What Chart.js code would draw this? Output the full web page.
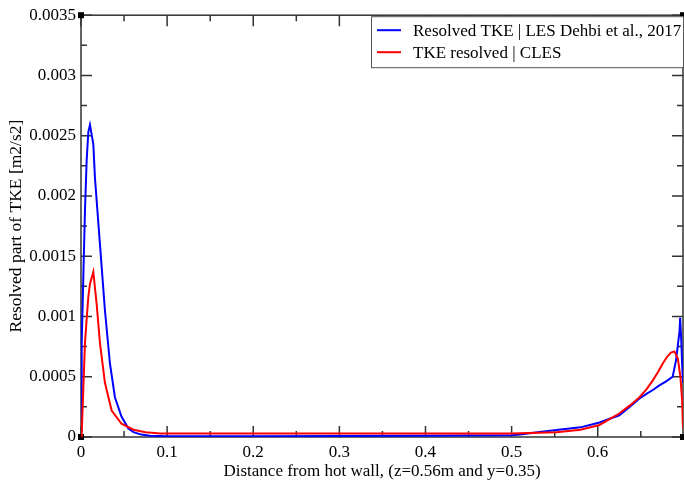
<!DOCTYPE html>
<html>
<head>
<meta charset="utf-8">
<script src="https://cdn.jsdelivr.net/npm/chart.js@4"></script>
<style>
html, body { margin: 0; padding: 0; background: #fff; }
</style>
</head>
<body>
<canvas id="myChart" width="684" height="489"></canvas>
<script>
var lesX = [0, 0.0008, 0.0027, 0.0046, 0.0066, 0.0085, 0.0104, 0.0143, 0.0162, 0.022, 0.0278, 0.0336, 0.0394, 0.047, 0.055, 0.061, 0.07, 0.08, 0.1, 0.2, 0.3, 0.4, 0.45, 0.5, 0.51, 0.53, 0.552, 0.58, 0.602, 0.625, 0.637, 0.6485, 0.657, 0.664, 0.672, 0.679, 0.687, 0.691, 0.695, 0.6957, 0.697, 0.698, 0.699];
var lesTke = [0.00005, 0.00078, 0.00133, 0.00188, 0.0023, 0.00253, 0.00259, 0.00243, 0.00215, 0.0016, 0.00105, 0.00061, 0.00033, 0.00017, 0.00007, 0.00004, 0.00002, 0.00001, 0.000006, 0.000006, 0.000008, 0.00001, 0.000012, 0.000015, 0.00002, 0.00004, 0.000058, 0.00008, 0.00012, 0.00018, 0.00025, 0.00032, 0.00036, 0.00039, 0.00043, 0.00046, 0.0005, 0.00064, 0.00088, 0.00099, 0.0008, 0.0006, 0.00045];

var clesX = [0, 0.0008, 0.0027, 0.0046, 0.0066, 0.0085, 0.0104, 0.0143, 0.0182, 0.022, 0.0278, 0.0356, 0.047, 0.061, 0.075, 0.092, 0.2, 0.3, 0.4, 0.5, 0.53, 0.552, 0.58, 0.602, 0.625, 0.637, 0.6485, 0.657, 0.664, 0.67, 0.6755, 0.681, 0.685, 0.689, 0.693, 0.696, 0.698, 0.699];
var clesTke = [0, 0.00003, 0.0004, 0.00078, 0.00098, 0.00116, 0.00127, 0.00137, 0.0011, 0.00078, 0.00045, 0.00022, 0.00011, 0.00006, 0.00004, 0.00003, 0.00003, 0.00003, 0.00003, 0.00003, 0.000035, 0.00004, 0.00006, 0.0001, 0.000195, 0.00026, 0.00033, 0.0004, 0.00047, 0.00054, 0.00061, 0.00067, 0.0007, 0.00071, 0.00065, 0.0005, 0.0003, 0.00007];

var labels = ["Resolved TKE | LES Dehbi et al., 2017", "TKE resolved | CLES"];
var xMax = 0.699;
var yMax = 0.0035;

function points(xs, ys) {
    var out = [];
    for (var i = 0; i < xs.length; i++) out.push({ x: xs[i], y: ys[i] });
    return out;
}

function fmt(v) {
    return String(parseFloat(Number(v).toFixed(5)));
}

var serif = "'Liberation Serif', 'DejaVu Serif', serif";

var framePlugin = {
    id: 'frame',
    beforeDatasetsDraw: function (chart) {
        var ctx = chart.ctx, a = chart.chartArea;
        var xs = chart.scales.x, ys = chart.scales.y;
        ctx.save();
        ctx.strokeStyle = '#333';
        ctx.lineWidth = 1.5;
        ctx.strokeRect(a.left, a.top, a.right - a.left, a.bottom - a.top);
        ctx.beginPath();
        var i, p, len;
        for (i = 0; i * 0.05 <= xMax + 1e-9; i++) {
            p = xs.getPixelForValue(i * 0.05);
            len = i % 2 == 0 ? 11 : 6;
            ctx.moveTo(p, a.bottom); ctx.lineTo(p, a.bottom - len);
            ctx.moveTo(p, a.top); ctx.lineTo(p, a.top + len);
        }
        for (i = 0; i * 0.00025 <= yMax + 1e-9; i++) {
            p = ys.getPixelForValue(i * 0.00025);
            len = i % 2 == 0 ? 11 : 6;
            ctx.moveTo(a.left, p); ctx.lineTo(a.left + len, p);
            ctx.moveTo(a.right, p); ctx.lineTo(a.right - len, p);
        }
        ctx.stroke();
        ctx.fillStyle = '#000';
        [[a.left, a.bottom], [a.left, a.top], [a.right, a.top], [a.right, a.bottom]].forEach(function (c) {
            ctx.fillRect(c[0] - 3, c[1] - 3, 6, 6);
        });
        ctx.restore();
    },
    afterDatasetsDraw: function (chart) {
        var ctx = chart.ctx, a = chart.chartArea;
        var left = 371, top = a.top + 1, w = a.right - left, h = 51;
        ctx.save();
        ctx.fillStyle = '#fff';
        ctx.fillRect(left, top, w, h);
        ctx.strokeStyle = '#555';
        ctx.lineWidth = 1;
        ctx.strokeRect(left + 0.5, top + 0.5, w, h);
        ctx.font = '17px ' + serif;
        ctx.textBaseline = 'middle';
        chart.data.datasets.forEach(function (ds, k) {
            var y = top + 14 + k * 22;
            ctx.strokeStyle = ds.borderColor;
            ctx.lineWidth = 2;
            ctx.beginPath();
            ctx.moveTo(377, y); ctx.lineTo(401, y);
            ctx.stroke();
            ctx.fillStyle = '#000';
            ctx.fillText(ds.label, 413, y + 1);
        });
        ctx.restore();
    }
};

var ctx = document.getElementById("myChart").getContext("2d");
var myChart = new Chart(ctx, {
    type: 'line',
    data: {
        datasets: [
            {
                label: labels[0],
                data: points(lesX, lesTke),
                borderColor: "#0000ff",
                borderWidth: 2,
                pointRadius: 0,
                fill: false,
                order: 1
            },
            {
                label: labels[1],
                data: points(clesX, clesTke),
                borderColor: "#ff0000",
                borderWidth: 2,
                pointRadius: 0,
                fill: false,
                order: 0
            }
        ]
    },
    options: {
        responsive: false,
        animation: false,
        layout: { padding: { top: 14, right: 1, left: 0, bottom: 0 } },
        plugins: {
            legend: { display: false },
            tooltip: { enabled: false }
        },
        scales: {
            x: {
                type: 'linear',
                min: 0,
                max: xMax,
                grid: { display: false, drawTicks: false },
                border: { display: false },
                ticks: {
                    stepSize: 0.1,
                    includeBounds: false,
                    padding: 5,
                    color: '#000',
                    font: { family: serif, size: 17 },
                    maxRotation: 0,
                    callback: fmt
                },
                title: {
                    display: true,
                    text: "Distance from hot wall, (z=0.56m and y=0.35)",
                    color: '#000',
                    font: { family: serif, size: 17 },
                    padding: { top: 0, bottom: 7 }
                },
                afterFit: function (s) { s.height = 52; }
            },
            y: {
                min: 0,
                max: yMax,
                grid: { display: false, drawTicks: false },
                border: { display: false },
                ticks: {
                    stepSize: 0.0005,
                    padding: 5,
                    color: '#000',
                    font: { family: serif, size: 17 },
                    callback: fmt
                },
                title: {
                    display: true,
                    text: "Resolved part of TKE [m2/s2]",
                    color: '#000',
                    font: { family: serif, size: 17.5 },
                    padding: { top: 6, bottom: 0 }
                },
                afterFit: function (s) { s.width = 81; }
            }
        }
    },
    plugins: [framePlugin]
});
</script>
</body>
</html>
